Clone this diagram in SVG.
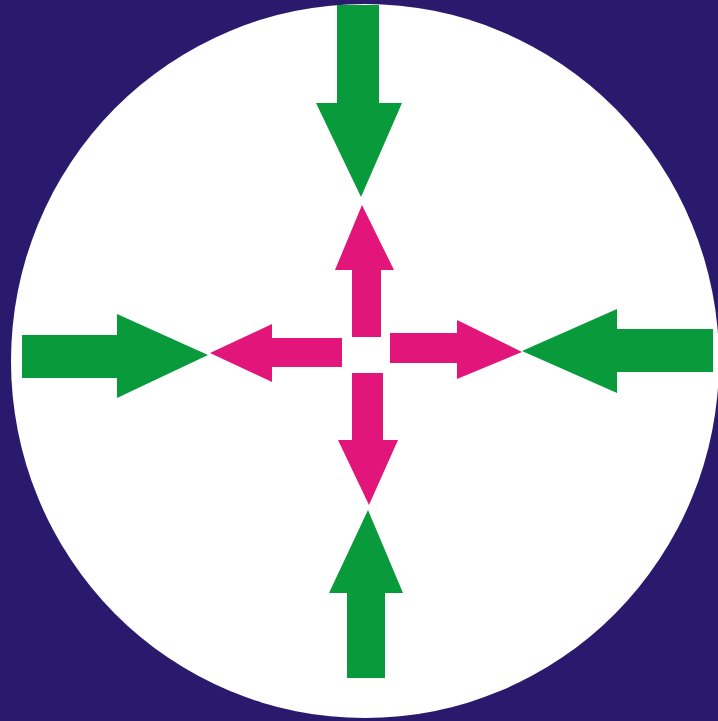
<svg xmlns="http://www.w3.org/2000/svg" width="718" height="721" viewBox="0 0 718 721">
<style>
.bg{fill:#2a1a6e}
.disc{fill:#ffffff}
.g{fill:#099a3b}
.m{fill:#e2157a}
</style>
<rect class="bg" x="0" y="0" width="718" height="721"/>
<ellipse class="disc" cx="365" cy="361" rx="354" ry="357"/>
<g id="connectors">
  <g id="green-top"><polygon class="g" points="337,5 379,5 379,103 402,103 361,197 316,103 337,103"/></g>
  <g id="green-left"><polygon class="g" points="22,335 117,335 117,314 208,355 117,398 117,378 22,378"/></g>
  <g id="green-right"><polygon class="g" points="713,329 617,329 617,309 522,351 617,393 617,372 713,372"/></g>
  <g id="green-bottom"><polygon class="g" points="347,678 385,678 385,593 403,593 368,510 329,593 347,593"/></g>
  <g id="magenta-up"><polygon class="m" points="352,337 381,337 381,270 394,270 362,205 335,270 352,270"/></g>
  <g id="magenta-right"><polygon class="m" points="390,333 457,333 457,320 522,352 457,379 457,363 390,363"/></g>
  <g id="magenta-down"><polygon class="m" points="352,373 383,373 383,440 398,440 369,505 338,440 352,440"/></g>
  <g id="magenta-left"><polygon class="m" points="342,338 272,338 272,324 210,353 272,382 272,367 342,367"/></g>
</g>
</svg>
